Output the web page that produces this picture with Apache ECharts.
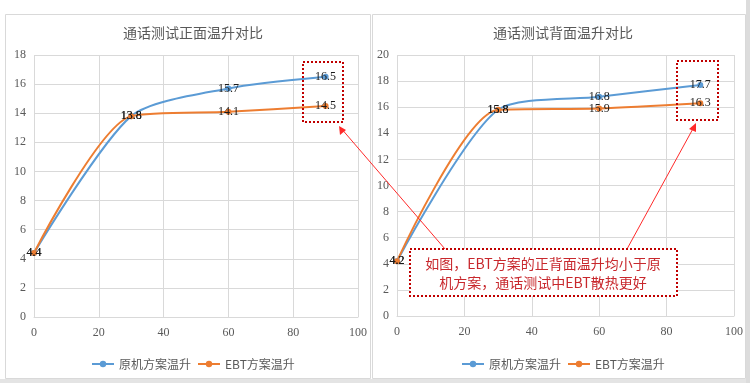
<!DOCTYPE html>
<html><head><meta charset="utf-8">
<script src="https://cdn.jsdelivr.net/npm/echarts@6/dist/echarts.min.js"></script>
<style>html,body{margin:0;padding:0;background:#fff}#c{width:750px;height:383px}</style>
</head><body><div id="c"></div>
<script>
const seriesNames = ['原机方案温升', 'EBT方案温升'];
const titleFront = '通话测试正面温升对比';
const titleBack = '通话测试背面温升对比';
const timeX = [0, 30, 60, 90];
const frontOriginal = [4.4, 13.8, 15.7, 16.5];
const frontEBT = [4.4, 13.8, 14.1, 14.5];
const backOriginal = [4.2, 15.8, 16.8, 17.7];
const backEBT = [4.2, 15.8, 15.9, 16.3];
const noteText = '如图，EBT方案的正背面温升均小于原\n机方案，通话测试中EBT散热更好';

const serif = 'Liberation Serif';
const cjk = 'Noto Sans CJK SC';
const colors = ['#5b9bd5', '#ed7d31'];
const pairs = (xs, ys) => xs.map((x, i) => [x, ys[i]]);

function xAxis(gi) {
  return {
    type: 'value', gridIndex: gi, min: 0, max: 100, interval: 20,
    axisLine: { show: true, lineStyle: { color: '#d9d9d9', width: 1 } },
    axisTick: { show: false },
    splitLine: { show: true, lineStyle: { color: '#d9d9d9' } },
    axisLabel: { color: '#595959', fontFamily: serif, fontSize: 12, margin: 10 }
  };
}
function yAxis(gi, max) {
  return {
    type: 'value', gridIndex: gi, min: 0, max: max, interval: 2,
    axisLine: { show: false }, axisTick: { show: false },
    splitLine: { show: true, lineStyle: { color: '#d9d9d9' } },
    axisLabel: { color: '#595959', fontFamily: serif, fontSize: 12, margin: 8 }
  };
}
function lineSeries(name, gi, data, color) {
  return {
    name, type: 'line', xAxisIndex: gi, yAxisIndex: gi, data,
    smooth: 0.25, symbol: 'circle', symbolSize: 6,
    lineStyle: { color, width: 2 }, itemStyle: { color },
    label: { show: true, position: 'inside', color: '#1a1a1a', fontFamily: serif, fontSize: 12 },
    z: 3
  };
}
function legend(cx) {
  return {
    data: seriesNames, left: cx, top: 353, itemWidth: 22, itemHeight: 8, itemGap: 6,
    textStyle: { fontFamily: cjk, fontSize: 12, color: '#595959' }
  };
}

const chart = echarts.init(document.getElementById('c'));
chart.setOption({
  animation: false,
  backgroundColor: '#ffffff',
  color: colors,
  title: [
    { text: titleFront, left: 188, top: 21, textAlign: 'center', textStyle: { fontFamily: cjk, fontWeight: 'normal', fontSize: 14, color: '#595959' } },
    { text: titleBack, left: 558, top: 21, textAlign: 'center', textStyle: { fontFamily: cjk, fontWeight: 'normal', fontSize: 14, color: '#595959' } }
  ],
  legend: [legend(86), legend(456)],
  grid: [
    { left: 34, right: 392, top: 55, bottom: 66 },
    { left: 397, right: 16, top: 55, bottom: 67 }
  ],
  xAxis: [xAxis(0), xAxis(1)],
  yAxis: [yAxis(0, 18), yAxis(1, 20)],
  series: [
    lineSeries(seriesNames[0], 0, pairs(timeX, frontOriginal), colors[0]),
    lineSeries(seriesNames[1], 0, pairs(timeX, frontEBT), colors[1]),
    lineSeries(seriesNames[0], 1, pairs(timeX, backOriginal), colors[0]),
    lineSeries(seriesNames[1], 1, pairs(timeX, backEBT), colors[1])
  ],
  graphic: [
    { type: 'rect', shape: { x: 0, y: 379, width: 750, height: 4 }, style: { fill: '#e4e4e4' }, z: -2 },
    { type: 'rect', shape: { x: 746, y: 0, width: 4, height: 383 }, style: { fill: '#dcdcdc' }, z: -2 },
    { type: 'rect', shape: { x: 5.5, y: 14.5, width: 365, height: 364 }, style: { fill: null, stroke: '#d9d9d9', lineWidth: 1 }, z: -1 },
    { type: 'rect', shape: { x: 372.5, y: 14.5, width: 373, height: 364 }, style: { fill: null, stroke: '#d9d9d9', lineWidth: 1 }, z: -1 },
    { type: 'rect', shape: { x: 303, y: 62, width: 40, height: 60 }, style: { fill: null, stroke: '#c00000', lineWidth: 2, lineDash: [2, 2] }, z: 10 },
    { type: 'rect', shape: { x: 677, y: 61, width: 41, height: 59 }, style: { fill: null, stroke: '#c00000', lineWidth: 2, lineDash: [2, 2] }, z: 10 },
    { type: 'line', shape: { x1: 445, y1: 249, x2: 340, y2: 127 }, style: { stroke: '#ff2a2a', lineWidth: 1 }, z: 10 },
    { type: 'polygon', shape: { points: [[339, 126], [340, 135], [346, 130]] }, style: { fill: '#ff2a2a' }, z: 10 },
    { type: 'line', shape: { x1: 627, y1: 249, x2: 695, y2: 125 }, style: { stroke: '#ff2a2a', lineWidth: 1 }, z: 10 },
    { type: 'polygon', shape: { points: [[696, 123], [689, 129], [696, 132]] }, style: { fill: '#ff2a2a' }, z: 10 },
    { type: 'rect', shape: { x: 410, y: 249, width: 267, height: 47 }, style: { fill: '#ffffff', stroke: '#c00000', lineWidth: 2, lineDash: [2, 2] }, z: 11 },
    { type: 'text', x: 543, y: 273, z: 12, style: { text: noteText, fontFamily: cjk, fontSize: 14, lineHeight: 19, fill: '#c8282d', align: 'center', verticalAlign: 'middle' } }
  ]
});
</script></body></html>
